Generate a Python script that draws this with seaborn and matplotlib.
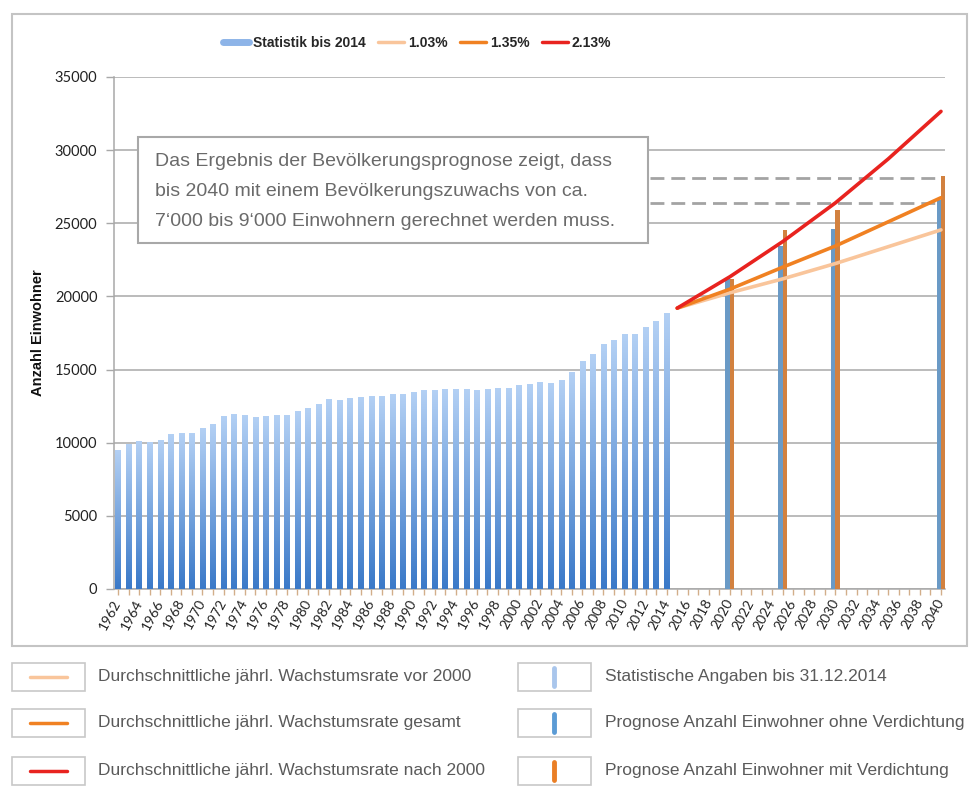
import numpy as np
import pandas as pd
import matplotlib
matplotlib.use("Agg")
import matplotlib.pyplot as plt
import seaborn as sns
from matplotlib.colors import LinearSegmentedColormap
from matplotlib.lines import Line2D
from matplotlib.patches import Rectangle

# statistics 1962-2014
hist_years = list(range(1962, 2015))
hist_pop = [9450, 9900, 10070, 10020, 10160, 10570, 10620, 10620, 10960, 11260,
            11790, 11950, 11830, 11720, 11810, 11830, 11880, 12130, 12360, 12610,
            12940, 12910, 13000, 13100, 13140, 13190, 13270, 13280, 13400, 13590,
            13550, 13660, 13640, 13640, 13590, 13640, 13730, 13730, 13890, 13950,
            14110, 14070, 14230, 14770, 15520, 16000, 16730, 17000, 17410, 17410,
            17860, 18320, 18820]

# growth rate curves
proj_years = [2015, 2020, 2025, 2030, 2035, 2040]
rate_103 = [19200, 20250, 21200, 22250, 23400, 24550]
rate_135 = [19200, 20500, 22000, 23450, 25100, 26750]
rate_213 = [19200, 21350, 23750, 26400, 29400, 32650]

# forecast bars
fc_years = [2020, 2025, 2030, 2040]
fc_ohne = [21250, 23450, 24600, 26600]
fc_mit = [21200, 24550, 25900, 28200]

dash_levels = [28100, 26400]

text_lines = ["Das Ergebnis der Bevölkerungsprognose zeigt, dass",
              "bis 2040 mit einem Bevölkerungszuwachs von ca.",
              "7‘000 bis 9‘000 Einwohnern gerechnet werden muss."]

legend_left = ["Durchschnittliche jährl. Wachstumsrate vor 2000",
               "Durchschnittliche jährl. Wachstumsrate gesamt",
               "Durchschnittliche jährl. Wachstumsrate nach 2000"]
legend_right = ["Statistische Angaben bis 31.12.2014",
                "Prognose Anzahl Einwohner ohne Verdichtung",
                "Prognose Anzahl Einwohner mit Verdichtung"]

c_light = "#f9c59b"
c_orange = "#f08122"
c_red = "#e8231f"
c_blue = "#5b9bd5"
c_forange = "#ea7f26"
c_hist = "#8db4e8"

sns.set_theme(style="white")
plt.rcParams["font.family"] = ["Liberation Sans", "DejaVu Sans"]

W, H = 975, 789


def fx(px):
    return px / W


def fy(py):
    return 1 - py / H


fig = plt.figure(figsize=(9.75, 7.89), dpi=100)
ax = fig.add_axes([fx(114), fy(589), fx(945) - fx(114), fy(77) - fy(589)])

# historical bars with a vertical gradient
n0 = len(ax.patches)
sns.barplot(x=hist_years, y=hist_pop, native_scale=True, width=0.5,
            color=c_hist, errorbar=None, linewidth=0, ax=ax, zorder=3)
grad = np.linspace(0, 1, 128).reshape(-1, 1)
cmap = LinearSegmentedColormap.from_list("g", ["#3a79c8", "#b3d0f4"])
for p in ax.patches[n0:]:
    bb = p.get_bbox()
    ax.imshow(grad, extent=(bb.x0, bb.x1, bb.y0, bb.y1), origin="lower",
              aspect="auto", cmap=cmap, zorder=3.1, interpolation="bilinear")

# forecast bars
fc_df = pd.DataFrame({
    "Jahr": fc_years * 2,
    "Einwohner": fc_ohne + fc_mit,
    "Variante": ["ohne"] * len(fc_years) + ["mit"] * len(fc_years),
})
sns.barplot(data=fc_df, x="Jahr", y="Einwohner", hue="Variante",
            native_scale=True, width=0.17, dodge=True, errorbar=None,
            linewidth=0, palette={"ohne": c_blue, "mit": c_forange},
            legend=False, ax=ax, zorder=3)

# growth curves
lines_df = pd.DataFrame({
    "Jahr": proj_years * 3,
    "Einwohner": rate_103 + rate_135 + rate_213,
    "Rate": ["1.03%"] * 6 + ["1.35%"] * 6 + ["2.13%"] * 6,
})
sns.lineplot(data=lines_df, x="Jahr", y="Einwohner", hue="Rate",
             palette={"1.03%": c_light, "1.35%": c_orange, "2.13%": c_red},
             linewidth=2.6, legend=False, ax=ax, zorder=5)

# dashed reference lines
for lvl in dash_levels:
    ax.plot([2012.4, 2040.0], [lvl, lvl], color="#a3a3a3", lw=2,
            dashes=(5, 2.5), zorder=4)

ax.set_xlim(1961.62, 2040.38)
ax.set_ylim(0, 35000)
ax.set_yticks(range(0, 35001, 5000))
ax.set_yticklabels([str(v) for v in range(0, 35001, 5000)],
                   fontfamily="Lato", fontsize=10.5, color="#222222")
ax.yaxis.grid(True, color="#a8a8a8", lw=1.1)
ax.set_axisbelow(True)
ax.set_xticks(range(1962, 2041, 2))
ax.set_xticks(range(1962, 2041), minor=True)
ax.set_xticklabels([str(y) for y in range(1962, 2041, 2)], rotation=62,
                   ha="right", va="center", rotation_mode="anchor",
                   fontfamily="Lato", fontsize=10, color="#222222")
ax.tick_params(axis="x", which="both", length=4, width=1, color="#d2ae8a",
               bottom=True, pad=4)
ax.tick_params(axis="y", length=6, width=1, color="#a8a8a8", left=True, pad=6)
for s in ["top", "right"]:
    ax.spines[s].set_visible(False)
for s in ["left", "bottom"]:
    ax.spines[s].set_color("#a8a8a8")
    ax.spines[s].set_linewidth(1.1)
ax.set_xlabel("")
ax.set_ylabel("Anzahl Einwohner", fontsize=10.5, fontweight="bold",
              color="#111111")
ax.yaxis.set_label_coords((45 - 114) / 831, 0.5)

# top legend
handles = [Line2D([], [], color=c_hist, lw=5),
           Line2D([], [], color=c_light, lw=2.5),
           Line2D([], [], color=c_orange, lw=2.5),
           Line2D([], [], color=c_red, lw=2.5)]
fig.legend(handles, ["Statistik bis 2014", "1.03%", "1.35%", "2.13%"],
           loc="center", bbox_to_anchor=(fx(417), fy(43)), ncol=4,
           frameon=False, prop={"weight": "bold", "size": 10},
           handlelength=1.9, handletextpad=0.25, columnspacing=0.9)

# outer chart border
fig.add_artist(Rectangle((fx(12), fy(646)), fx(967) - fx(12), fy(14) - fy(646),
                         transform=fig.transFigure, fill=False,
                         edgecolor="#c4c4c4", lw=1.5, zorder=1))

# text box
fig.add_artist(Rectangle((fx(138), fy(243)), fx(648) - fx(138), fy(137) - fy(243),
                         transform=fig.transFigure, facecolor="white",
                         edgecolor="#a8a8a8", lw=1.5, zorder=6))
for i, t in enumerate(text_lines):
    fig.text(fx(155), fy(161 + 30.5 * i), t, fontsize=14.0, color="#6a6a6a",
             ha="left", va="center", zorder=7)

# bottom legend
rows = [677, 723, 771]
left_cols = [c_light, c_orange, c_red]
right_cols = ["#a9c6ec", c_blue, c_forange]
for i, yc in enumerate(rows):
    for bx in (12, 518):
        fig.add_artist(Rectangle((fx(bx), fy(yc + 14)), fx(73), 28 / H,
                                 transform=fig.transFigure, facecolor="white",
                                 edgecolor="#c8c8c8", lw=1.2))
    fig.add_artist(Line2D([fx(30), fx(67)], [fy(yc), fy(yc)],
                          transform=fig.transFigure, color=left_cols[i], lw=2.5))
    fig.add_artist(Line2D([fx(554), fx(554)], [fy(yc - 9), fy(yc + 9)],
                          transform=fig.transFigure, color=right_cols[i], lw=3.5))
    fig.text(fx(98), fy(yc), legend_left[i], fontsize=12.5, color="#5a5a5a",
             ha="left", va="center")
    fig.text(fx(605), fy(yc), legend_right[i], fontsize=12.5, color="#5a5a5a",
             ha="left", va="center")

fig.savefig("out.png", dpi=100)
